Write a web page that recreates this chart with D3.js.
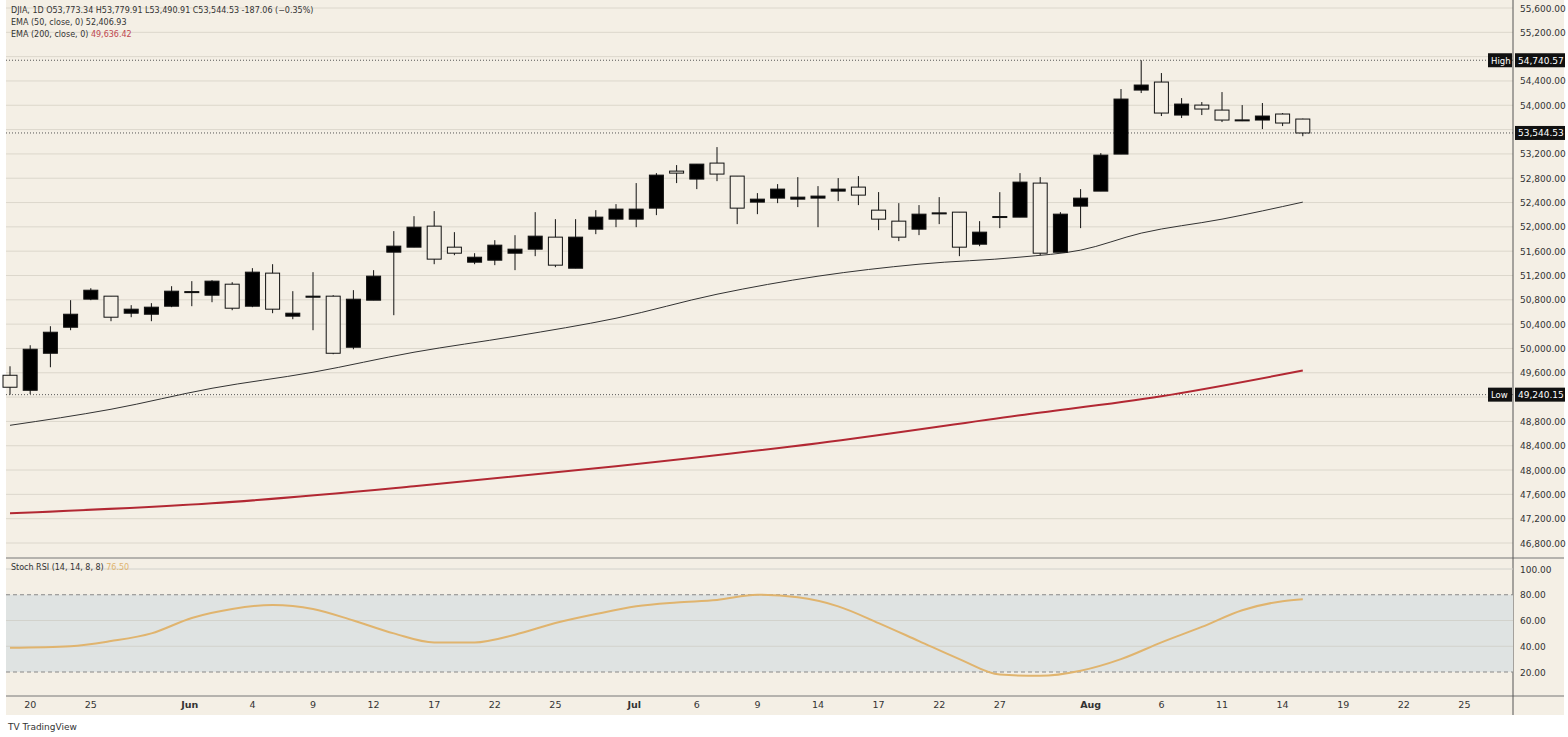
<!DOCTYPE html>
<html>
<head>
<meta charset="utf-8">
<script src="https://cdn.jsdelivr.net/npm/d3@7.9.0/dist/d3.min.js"></script>
<style>
  body { margin: 0; background: #fff; }
  svg { display: block; font-family: "DejaVu Sans", sans-serif; }
</style>
</head>
<body>
<svg id="chart" width="1568" height="737"></svg>
<script>
// candles (one per trading day)
const opens  = [49559,49312,49921,50349,50811,50860,50580,50563,50695,50926,50876,51057,50695,51239,50531,50843,50860,50020,50794,51584,51666,52012,51666,51419,51452,51567,51633,51831,51320,51962,52127,52127,52308,52917,52786,53049,52835,52407,52473,52456,52473,52588,52654,52275,52094,51962,52226,52242,51715,52160,52160,52720,51583,52341,52588,53197,54250,54382,53839,54003,53921,53760,53757,53856,53773.34];
const highs  = [49707,50053,50366,50794,50991,50860,50712,50745,51024,51107,51123,51090,51321,51386,50942,51255,50876,50959,51288,51930,52176,52259,51913,51567,51781,51863,52242,52127,52127,52275,52374,52720,52884,53016,53032,53312,52835,52555,52703,52818,52670,52802,52835,52572,52390,52358,52489,52242,52094,52571,52884,52818,52242,52621,53213,54267,54740.57,54530,54118,54053,54217,54003,54037,53872,53779.91];
const lows   = [49240.15,49250,49691,50300,50794,50448,50514,50448,50679,50695,50761,50629,50679,50580,50481,50300,49905,49987,50794,50547,51666,51386,51534,51386,51370,51288,51518,51337,51320,51880,51995,51995,52193,52720,52621,52752,52045,52209,52390,52325,51995,52423,52358,51946,51765,51864,52045,51518,51682,51979,52160,51534,51583,51979,52588,53197,54201,53823,53790,53839,53724,53740,53608,53658,53490.91];
const closes = [49362,49987,50267,50563,50958,50514,50646,50679,50942,50935,51107,50662,51255,50646,50580,50860,49921,50810,51189,51683,51995,51469,51567,51501,51699,51633,51847,51370,51831,52160,52292,52292,52851,52884,53032,52868,52308,52456,52621,52489,52506,52621,52522,52127,51831,52209,52230,51666,51913,52170,52736,51567,52209,52473,53180,54102,54333,53872,54020,53938,53757,53757,53823,53708,53544.53];

// EMA lines, read at sample bars
const emaIdx      = [0,5,10,15,20,25,30,35,40,45,50,53,56,60,64];
const ema50       = [48736,49000,49345,49609,49938,50201,50497,50892,51189,51386,51502,51617,51897,52127,52406.93];
const ema200Idx   = [0,10,20,30,40,50,57,64];
const ema200      = [47288,47452,47732,48061,48440,48901,49214,49636.42];

// Stoch RSI, read at sample bars
const stochIdx = [0,3,5,7,9,11,13,15,17,19,21,23,25,27,29,31,33,35,37,39,41,43,45,47,49,51,53,55,57,59,61,63,64];
const stochVal = [38.8,40,44,50,62,69,72,69,60,50,43,43,49,58,65,71,74,76,80,78,71,58,44,30,18,17,21,30,43,55,68,75,76.5];

// time axis labels and the bar slot they sit on
const dateLabels = ["20","25","Jun","4","9","12","17","22","25","Jul","6","9","14","17","22","27","Aug","6","11","14","19","22","25"];
const dateSlots  = [1,4,8.9,12,15,18,21,24,27,30.9,34,37,40,43,46,49,53.5,57,60,63,66,69,72];

const priceTicks = d3.range(46800, 55601, 400);
const stochTicks = [20,40,60,80,100];

const svg = d3.select('#chart');
const L = 6, R = 1513, stTop = 558, stBot = 696, axBot = 715;

svg.append('rect').attr('x', L).attr('y', 0).attr('width', 1568 - L - 4).attr('height', axBot).attr('fill', '#f4efe5');

const x = d3.scaleLinear().domain([0, 1]).range([10, 30.2]);
const y = d3.scaleLinear().domain([46800, 55600]).range([543, 8]);
const ys = d3.scaleLinear().domain([20, 100]).range([672, 569]);

// grid
svg.append('g').selectAll('line').data(priceTicks).join('line')
  .attr('x1', L).attr('x2', R).attr('y1', d => y(d)).attr('y2', d => y(d))
  .attr('stroke', '#dcd7cc').attr('stroke-width', 1);

// High / Low / last dotted
const hi = d3.max(highs), lo = d3.min(lows), last = closes[closes.length - 1];
[hi, lo, last].forEach(v => {
  svg.append('line').attr('x1', L).attr('x2', R).attr('y1', y(v)).attr('y2', y(v))
    .attr('stroke', '#555').attr('stroke-dasharray', '1,2').attr('stroke-width', 1);
});

// EMA 200 + 50
const line = d3.line().curve(d3.curveMonotoneX);
svg.append('path').attr('d', line(ema200Idx.map((d, i) => [x(d), y(ema200[i])])))
  .attr('fill', 'none').attr('stroke', '#b22833').attr('stroke-width', 2);
svg.append('path').attr('d', line(emaIdx.map((d, i) => [x(d), y(ema50[i])])))
  .attr('fill', 'none').attr('stroke', '#333').attr('stroke-width', 1);

// candles: up = black, down = hollow
const cw = 14;
const candles = svg.append('g').selectAll('g').data(opens).join('g');
candles.append('line')
  .attr('x1', (d, i) => x(i)).attr('x2', (d, i) => x(i))
  .attr('y1', (d, i) => y(highs[i])).attr('y2', (d, i) => y(lows[i]))
  .attr('stroke', '#111').attr('stroke-width', 1);
candles.append('rect')
  .attr('x', (d, i) => x(i) - cw / 2).attr('width', cw)
  .attr('y', (d, i) => y(Math.max(d, closes[i])))
  .attr('height', (d, i) => Math.max(1, Math.abs(y(d) - y(closes[i]))))
  .attr('fill', (d, i) => closes[i] >= d ? '#000' : '#f4efe5')
  .attr('stroke', '#111').attr('stroke-width', 1);

// pane separators and axis line
svg.append('line').attr('x1', L).attr('x2', 1564).attr('y1', stTop).attr('y2', stTop).attr('stroke', '#777');
svg.append('line').attr('x1', L).attr('x2', 1564).attr('y1', stBot).attr('y2', stBot).attr('stroke', '#777');
svg.append('line').attr('x1', R).attr('x2', R).attr('y1', 0).attr('y2', axBot).attr('stroke', '#555');

// stoch pane
svg.append('rect').attr('x', L).attr('width', R - L).attr('y', ys(80)).attr('height', ys(20) - ys(80)).attr('fill', '#dfe3e2');
svg.append('g').selectAll('line').data([40, 60, 100]).join('line')
  .attr('x1', L).attr('x2', R).attr('y1', d => ys(d)).attr('y2', d => ys(d)).attr('stroke', '#d2d2cc');
svg.append('g').selectAll('line').data([20, 80]).join('line')
  .attr('x1', L).attr('x2', R).attr('y1', d => ys(d)).attr('y2', d => ys(d))
  .attr('stroke', '#888').attr('stroke-dasharray', '4,3');
svg.append('path').attr('d', d3.line().curve(d3.curveMonotoneX)(stochIdx.map((d, i) => [x(d), ys(stochVal[i])])))
  .attr('fill', 'none').attr('stroke', '#e0b46e').attr('stroke-width', 2);

// right axis labels
const fmt = d3.format(',.2f');
svg.append('g').selectAll('text').data(priceTicks.filter(d => Math.abs(y(d) - y(last)) > 8 && Math.abs(y(d) - y(hi)) > 8 && Math.abs(y(d) - y(lo)) > 8)).join('text')
  .attr('x', 1520).attr('y', d => y(d) + 3.5).text(d => fmt(d))
  .attr('font-size', 9).attr('fill', '#333');
svg.append('g').selectAll('text').data(stochTicks).join('text')
  .attr('x', 1520).attr('y', d => ys(d) + 3.5).text(d => fmt(d))
  .attr('font-size', 9).attr('fill', '#333');

function tag(v, label) {
  const yy = y(v);
  svg.append('rect').attr('x', 1515).attr('y', yy - 7).attr('width', 50).attr('height', 14).attr('fill', '#111');
  svg.append('text').attr('x', 1518).attr('y', yy + 3.5).text(fmt(v)).attr('font-size', 9).attr('fill', '#fff');
  if (label) {
    svg.append('rect').attr('x', 1488).attr('y', yy - 7).attr('width', 24).attr('height', 14).attr('fill', '#111');
    svg.append('text').attr('x', 1491).attr('y', yy + 3.5).text(label).attr('font-size', 8.5).attr('fill', '#fff');
  }
}
tag(hi, 'High'); tag(lo, 'Low'); tag(last, null);

// bottom axis labels
svg.append('g').selectAll('text').data(dateLabels).join('text')
  .attr('x', (d, i) => x(dateSlots[i])).attr('y', 708).attr('text-anchor', 'middle')
  .attr('font-size', 9.5).attr('fill', '#333')
  .attr('font-weight', d => isNaN(+d) ? 'bold' : 'normal').text(d => d);

// legend texts
const lg = svg.append('g').attr('font-size', 8).attr('fill', '#333');
lg.append('text').attr('x', 11).attr('y', 13).text('DJIA, 1D  O53,773.34  H53,779.91  L53,490.91  C53,544.53  -187.06 (\u22120.35%)');
lg.append('text').attr('x', 11).attr('y', 25).text('EMA (50, close, 0)  52,406.93');
lg.append('text').attr('x', 11).attr('y', 37).text('EMA (200, close, 0)  ').append('tspan').attr('fill', '#c0474f').text('49,636.42');
lg.append('text').attr('x', 11).attr('y', 570).text('Stoch RSI (14, 14, 8, 8)  ').append('tspan').attr('fill', '#e0b46e').text('76.50');

svg.append('text').attr('x', 8).attr('y', 730).attr('font-size', 9).attr('fill', '#333')
  .text('TV TradingView');
</script>
</body>
</html>
